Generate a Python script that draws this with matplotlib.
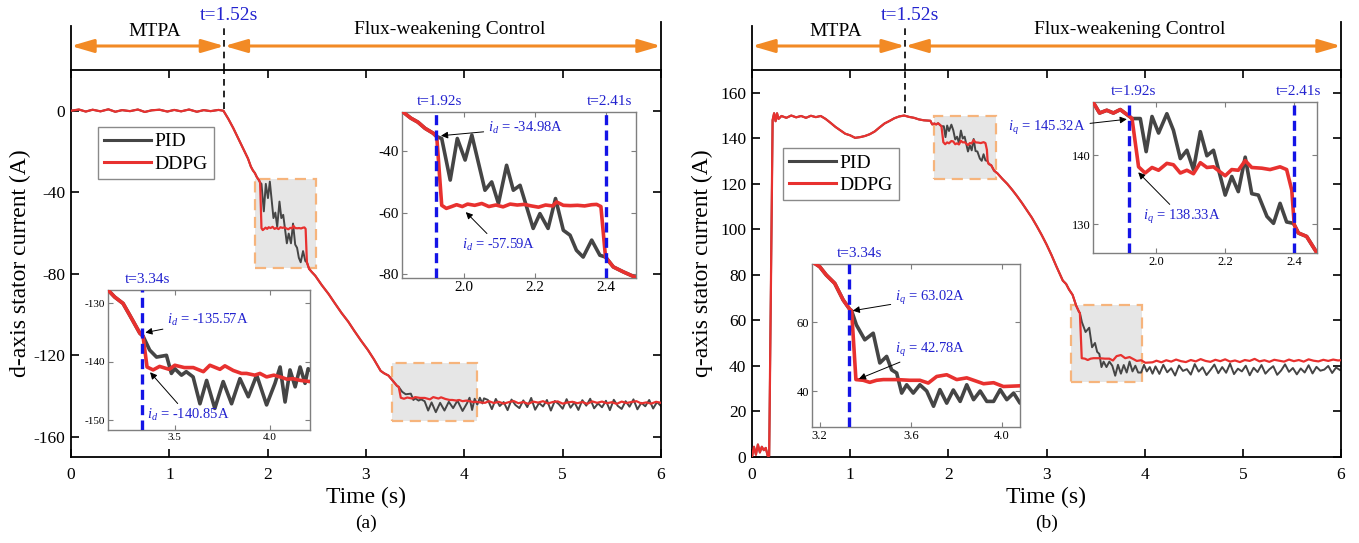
import numpy as np
import matplotlib
matplotlib.use("Agg")
import matplotlib.pyplot as plt
import matplotlib.transforms as mtransforms
from matplotlib.patches import Rectangle, ConnectionPatch
from matplotlib.lines import Line2D

plt.rcParams['font.family'] = ['Liberation Serif', 'DejaVu Serif']
plt.rcParams['mathtext.fontset'] = 'custom'
plt.rcParams['mathtext.rm'] = 'Liberation Serif'
plt.rcParams['mathtext.it'] = 'Liberation Serif:italic'
plt.rcParams['axes.unicode_minus'] = False

# ------------------------------------------------------------------ data
series_names = ['PID', 'DDPG']
t_switch = 1.56          # MTPA -> flux weakening (label t=1.52s)
t_marks_fw = [1.92, 2.40]  # labels t=1.92s, t=2.41s
t_mark_ss = 3.33         # label t=3.34s
x_ticks = [0, 1, 2, 3, 4, 5, 6]
d_yticks = [0, -40, -80, -120, -160]
q_yticks = [0, 20, 40, 60, 80, 100, 120, 140, 160]

# ---- d-axis current (panel a)
d_pre_t = [0.0, 0.08, 0.15, 0.22, 0.30, 0.38, 0.45, 0.52, 0.60, 0.68, 0.75, 0.82, 0.90, 0.98, 1.05,
           1.12, 1.20, 1.28, 1.35, 1.42, 1.50, 1.55, 1.60, 1.65, 1.70, 1.75, 1.80, 1.829, 1.85, 1.87,
           1.89, 1.913, 1.923]
d_pre_v = [0.0, 0.6, -0.4, 0.5, -0.3, 0.7, -0.5, 0.3, -0.2, 0.6, -0.6, 0.2, 0.5, -0.4, 0.4,
           -0.3, 0.6, -0.5, 0.3, -0.2, 0.4, 0.0, -4.0, -8.5, -13.5, -18.5, -23.5, -27.4, -29.3, -30.6,
           -32.6, -34.2, -35.3]
d_ddpg_fw_t = [1.937, 1.95, 1.965, 1.979, 1.995, 2.01, 2.03, 2.05, 2.07, 2.09, 2.11, 2.13, 2.15, 2.17,
               2.19, 2.21, 2.23, 2.25, 2.261, 2.28, 2.30, 2.32, 2.34, 2.36, 2.374, 2.386, 2.399]
d_ddpg_fw_v = [-57.6, -58.6, -58.0, -57.4, -58.0, -57.2, -57.6, -57.0, -58.0, -57.5, -58.1, -57.2, -57.5,
               -57.3, -57.8, -58.2, -57.5, -57.8, -56.5, -57.6, -57.7, -57.6, -57.8, -57.4, -57.3, -58.0,
               -74.4]
d_pid_fw_t = [1.937, 1.961, 1.981, 2.003, 2.022, 2.059, 2.078, 2.097, 2.12, 2.139, 2.158, 2.195, 2.214,
              2.237, 2.258, 2.28, 2.299, 2.317, 2.336, 2.36, 2.383, 2.399]
d_pid_fw_v = [-35.9, -49.4, -35.9, -42.9, -34.8, -52.7, -50.0, -57.0, -44.6, -52.7, -51.1, -65.1, -60.3,
              -65.1, -55.4, -65.7, -67.3, -72.2, -74.4, -68.9, -73.8, -74.4]
d_mid_t = [2.421, 2.449, 2.484, 2.55, 2.62, 2.68, 2.75, 2.82, 2.88, 2.95, 3.02, 3.08, 3.149, 3.184,
           3.228, 3.263, 3.316, 3.333]
d_mid_v = [-77.6, -79.2, -81.0, -85.6, -90.0, -94.3, -99.2, -103.6, -108.0, -112.9, -117.5, -122.0,
           -127.7, -128.9, -130.0, -132.0, -135.1, -135.6]
d_ddpg_ss_t = [3.354, 3.386, 3.42, 3.47, 3.5, 3.55, 3.597, 3.65, 3.684, 3.737, 3.763, 3.807, 3.85, 3.877,
               3.92, 3.947, 3.982, 4.02, 4.053, 4.09, 4.12, 4.16, 4.21]
d_ddpg_ss_v = [-140.9, -141.4, -140.8, -141.3, -140.6, -141.0, -141.0, -141.7, -140.6, -141.3, -140.7,
               -141.5, -142.0, -142.0, -142.3, -142.0, -142.6, -142.3, -142.6, -143.0, -142.9, -143.2,
               -143.4]
d_pid_ss_t = [3.368, 3.404, 3.456, 3.482, 3.5, 3.535, 3.56, 3.596, 3.632, 3.667, 3.71, 3.754, 3.798,
              3.842, 3.886, 3.93, 3.982, 4.026, 4.053, 4.079, 4.105, 4.132, 4.158, 4.184, 4.2]
d_pid_ss_v = [-138.0, -139.2, -138.9, -142.0, -141.2, -142.3, -141.7, -142.6, -147.2, -143.2, -148.0,
              -143.4, -147.2, -142.9, -146.0, -142.3, -147.4, -143.7, -140.9, -146.9, -141.4, -144.3,
              -140.9, -143.7, -141.2]
d_ddpg_tail_start, d_ddpg_tail_step = 4.25, 0.05
d_ddpg_tail_v = [-142.6, -143.5, -142.9, -143.8, -143.1, -142.5, -143.6, -143.0, -143.9, -142.8,
                 -143.3, -142.6, -143.7, -143.0, -142.7, -143.8, -143.2, -142.9, -143.6, -143.0,
                 -143.9, -142.7, -143.4, -142.8, -143.6, -143.1, -143.9, -142.8, -143.5, -143.0,
                 -142.6, -143.7, -143.2, -143.8, -142.9, -143.4]
d_pid_tail_start, d_pid_tail_step = 4.24, 0.04
d_pid_tail_v = [-142.0, -146.5, -141.5, -145.0, -143.0, -147.0, -141.8, -144.5, -146.0, -142.2,
                -145.5, -141.0, -146.8, -143.5, -145.2, -142.0, -147.2, -142.5, -144.0, -146.3,
                -141.6, -145.8, -143.2, -146.9, -142.1, -144.8, -141.4, -146.1, -143.7, -145.6,
                -142.4, -147.0, -141.9, -144.9, -146.4, -142.6, -145.3, -141.7, -146.6, -143.4,
                -145.1, -142.0, -146.2, -143.0, -145.0]

# ---- q-axis current (panel b)
q_pre_t = [0.0, 0.02, 0.04, 0.06, 0.08, 0.10, 0.12, 0.14, 0.16, 0.175, 0.21, 0.225, 0.24, 0.255, 0.27,
           0.30, 0.35, 0.40, 0.45, 0.50, 0.55, 0.60, 0.65, 0.70, 0.75, 0.80, 0.85, 0.90, 0.95, 1.00,
           1.05, 1.10, 1.15, 1.20, 1.25, 1.30, 1.35, 1.40, 1.45, 1.50, 1.55, 1.60, 1.65, 1.70, 1.75,
           1.817, 1.836, 1.857, 1.876, 1.896, 1.923, 1.93]
q_pre_v = [0.0, 4.5, 1.0, 5.5, 2.0, 4.5, 3.0, 4.0, 0.5, 0.5, 148.0, 151.0, 147.5, 151.0, 148.5,
           149.8, 149.0, 150.0, 149.2, 149.8, 149.0, 149.9, 149.3, 149.8, 148.5, 146.8, 145.0, 143.5,
           142.0, 141.3, 140.2, 140.5, 141.0, 141.8, 143.0, 144.8, 146.5, 147.6, 148.8, 149.6, 150.0,
           149.4, 149.0, 148.3, 147.9, 147.7, 146.1, 146.5, 146.1, 146.6, 145.6, 145.3]
q_ddpg_fw_t = [1.949, 1.968, 1.988, 2.007, 2.031, 2.05, 2.07, 2.089, 2.108, 2.128, 2.147, 2.166, 2.2,
               2.219, 2.238, 2.258, 2.277, 2.306, 2.33, 2.359, 2.378, 2.393, 2.40]
q_ddpg_fw_v = [138.3, 137.4, 138.2, 137.8, 138.8, 138.6, 137.4, 137.8, 137.3, 138.9, 138.2, 138.3,
               137.0, 137.9, 137.8, 139.2, 138.2, 138.1, 137.9, 138.3, 137.9, 134.9, 129.9]
q_pid_fw_t = [1.954, 1.971, 1.988, 2.007, 2.031, 2.05, 2.07, 2.089, 2.108, 2.128, 2.147, 2.166, 2.2,
              2.219, 2.238, 2.258, 2.277, 2.296, 2.321, 2.34, 2.359, 2.378, 2.398]
q_pid_fw_v = [145.3, 140.5, 145.6, 143.2, 146.0, 143.6, 139.5, 140.7, 137.9, 143.4, 139.9, 140.7,
              134.2, 136.9, 134.7, 139.7, 134.4, 134.2, 131.1, 130.1, 133.0, 130.3, 130.1]
q_mid_t = [2.412, 2.436, 2.466, 2.50, 2.55, 2.60, 2.65, 2.70, 2.75, 2.80, 2.85, 2.90, 2.95, 3.00,
           3.05, 3.10, 3.166, 3.20, 3.229, 3.266, 3.303, 3.332, 3.34]
q_mid_v = [128.7, 128.2, 125.8, 124.6, 122.2, 120.0, 117.4, 114.6, 111.6, 108.4, 105.2, 101.5, 97.6,
           93.4, 88.8, 83.8, 77.5, 76.0, 73.6, 71.2, 66.4, 63.7, 63.3]
q_ddpg_ss_t = [3.359, 3.391, 3.42, 3.45, 3.479, 3.538, 3.596, 3.64, 3.677, 3.714, 3.758, 3.802, 3.846,
               3.89, 3.92, 3.964, 4.007, 4.08]
q_ddpg_ss_v = [43.4, 43.2, 42.6, 43.2, 43.4, 43.4, 43.2, 43.2, 42.4, 44.3, 44.8, 43.4, 43.9, 42.9,
               42.2, 42.5, 41.4, 41.6]
q_pid_ss_t = [3.361, 3.398, 3.435, 3.464, 3.494, 3.516, 3.538, 3.56, 3.582, 3.611, 3.64, 3.67, 3.70,
              3.728, 3.758, 3.787, 3.817, 3.846, 3.876, 3.905, 3.934, 3.964, 3.993, 4.022, 4.052, 4.08]
q_pid_ss_v = [59.2, 54.9, 56.8, 48.2, 50.1, 46.2, 45.3, 39.5, 41.9, 39.5, 41.9, 40.1, 35.7, 40.5,
              36.6, 40.4, 37.1, 41.9, 37.6, 40.1, 37.1, 37.1, 40.5, 37.6, 39.5, 36.6]
q_ddpg_tail_start, q_ddpg_tail_step = 4.12, 0.05
q_ddpg_tail_v = [42.3, 41.6, 42.5, 41.9, 42.8, 42.1, 41.7, 42.6, 42.0, 43.0, 42.2, 41.8, 42.7, 42.1,
                 42.9, 41.9, 42.4, 41.7, 42.6, 42.2, 43.1, 42.0, 42.5, 41.8, 42.7, 42.3, 41.9, 42.8,
                 42.1, 42.6, 41.9, 42.9, 42.3, 42.0, 42.7, 42.2, 42.8, 42.4, 42.6]
q_pid_tail_start, q_pid_tail_step = 4.11, 0.04
q_pid_tail_v = [39.8, 36.5, 40.5, 37.2, 39.0, 35.8, 40.2, 37.8, 38.6, 36.2, 40.8, 37.5, 39.4, 36.0,
                38.2, 40.6, 36.8, 39.5, 37.0, 41.0, 36.4, 38.8, 37.6, 40.1, 35.9, 39.2, 37.3, 40.4,
                36.6, 38.5, 39.9, 36.1, 38.0, 40.7, 37.4, 39.1, 36.3, 38.9, 37.1, 40.3, 36.7, 39.6,
                37.9, 38.4, 40.0, 36.9, 39.3, 38.2]


def build(*segs):
    t = np.concatenate([np.asarray(s[0], float) for s in segs])
    v = np.concatenate([np.asarray(s[1], float) for s in segs])
    return t, v


def tail(t0, dt, vals):
    return t0 + dt * np.arange(len(vals)), vals


d_ddpg = build((d_pre_t, d_pre_v), (d_ddpg_fw_t, d_ddpg_fw_v), (d_mid_t, d_mid_v),
               (d_ddpg_ss_t, d_ddpg_ss_v), tail(d_ddpg_tail_start, d_ddpg_tail_step, d_ddpg_tail_v))
d_pid = build((d_pre_t, d_pre_v), (d_pid_fw_t, d_pid_fw_v), (d_mid_t, d_mid_v),
              (d_pid_ss_t, d_pid_ss_v), tail(d_pid_tail_start, d_pid_tail_step, d_pid_tail_v))
q_ddpg = build((q_pre_t, q_pre_v), (q_ddpg_fw_t, q_ddpg_fw_v), (q_mid_t, q_mid_v),
               (q_ddpg_ss_t, q_ddpg_ss_v), tail(q_ddpg_tail_start, q_ddpg_tail_step, q_ddpg_tail_v))
q_pid = build((q_pre_t, q_pre_v), (q_pid_fw_t, q_pid_fw_v), (q_mid_t, q_mid_v),
              (q_pid_ss_t, q_pid_ss_v), tail(q_pid_tail_start, q_pid_tail_step, q_pid_tail_v))

# ------------------------------------------------------------------ style
W, H = 1359, 543
RED = '#E8312F'
GRAY = '#454545'
BLUE = '#2323CF'
BLUE_LINE = '#1414E6'
ORANGE = '#F28A25'
RECT_EDGE = '#F6B47C'
RECT_FACE = '#E6E6E6'
LINK = '#B4B4B4'
INSET_SPINE = '#7F7F7F'


def fbox(x0, y0, x1, y1):
    return [x0 / W, 1 - y1 / H, (x1 - x0) / W, (y1 - y0) / H]


panels = [
    dict(px=(71, 70, 661, 457), ylim=(-170, 20), yticks=d_yticks,
         ylabel='d-axis stator current (A)', ylabel_x=20, caption='(a)',
         pid=d_pid, ddpg=d_ddpg, sw_bottom=1.0, legend_anchor=(0.046, 0.853),
         rects=[(1.87, -77.4, 2.49, -33.5), (3.26, -152.1, 4.13, -124.0)],
         insets=[
             dict(px=(402, 112, 636, 278), xlim=(1.825, 2.485), ylim=(-81.2, -27.3),
                  xticks=[2.0, 2.2, 2.4], yticks=[-40, -60, -80], fs=11,
                  vlines=t_marks_fw, tlabels=[('t=1.92s', 1.93), ('t=2.41s', 2.41)],
                  rect=0, links=[((1, 1), (0, 1)), ((1, 0), (0, 0))],
                  notes=[(r'$i_d$ = -34.98A', (2.067, -32.5), (1.935, -35.0)),
                         (r'$i_d$ = -57.59A', (1.994, -70.6), (2.005, -59.8))]),
             dict(px=(108, 290, 310, 430), xlim=(3.149, 4.21), ylim=(-151.7, -127.7),
                  xticks=[3.5, 4.0], yticks=[-130, -140, -150], fs=8,
                  vlines=[t_mark_ss], tlabels=[('t=3.34s', 3.358)],
                  rect=1, links=[((0, 1), (1, 1)), ((0, 0), (1, 0))],
                  notes=[(r'$i_d$ = -135.57A', (3.459, -132.9), (3.345, -135.0)),
                         (r'$i_d$ = -140.85A', (3.353, -149.2), (3.37, -141.8))]),
         ]),
    dict(px=(752, 70, 1341, 457), ylim=(0, 170), yticks=q_yticks,
         ylabel='q-axis stator current (A)', ylabel_x=702, caption='(b)',
         pid=q_pid, ddpg=q_ddpg, sw_bottom=151.0, legend_anchor=(0.053, 0.798),
         rects=[(1.857, 122.2, 2.49, 150.0), (3.25, 33.1, 3.97, 66.8)],
         insets=[
             dict(px=(1093, 102, 1317, 253), xlim=(1.817, 2.466), ylim=(125.8, 147.7),
                  xticks=[2.0, 2.2, 2.4], yticks=[130, 140], fs=9,
                  vlines=t_marks_fw, tlabels=[('t=1.92s', 1.934), ('t=2.41s', 2.412)],
                  rect=0, links=[((1, 1), (0, 1)), ((1, 0), (0, 0))],
                  notes=[(r'$i_q$ = 145.32A', (1.571, 143.9), (1.915, 145.2)),
                         (r'$i_q$ = 138.33A', (1.963, 131.0), (1.948, 137.5))]),
             dict(px=(812, 264, 1020, 427), xlim=(3.166, 4.08), ylim=(29.7, 76.8),
                  xticks=[3.2, 3.6, 4.0], yticks=[40, 60], fs=9,
                  vlines=[t_mark_ss], tlabels=[('t=3.34s', 3.376)],
                  rect=1, links=[((0, 1), (1, 1)), ((0, 0), (1, 0))],
                  notes=[(r'$i_q$ = 63.02A', (3.53, 67.0), (3.345, 63.3)),
                         (r'$i_q$ = 42.78A', (3.53, 52.0), (3.372, 43.6))]),
         ]),
]

fig = plt.figure(figsize=(W / 100, H / 100), dpi=100)

for p in panels:
    x0, y0, x1, y1 = p['px']
    ax = fig.add_axes(fbox(*p['px']))
    for (rx0, ry0, rx1, ry1) in p['rects']:
        ax.add_patch(Rectangle((rx0, ry0), rx1 - rx0, ry1 - ry0, facecolor=RECT_FACE,
                               edgecolor=RECT_EDGE, lw=1.6, ls=(0, (5, 3)), zorder=1))
    ax.plot(*p['pid'], color=GRAY, lw=1.4, zorder=2)
    ax.plot(*p['ddpg'], color=RED, lw=1.6, zorder=3)
    ax.plot([t_switch, t_switch], [p['sw_bottom'], p['ylim'][1]], color='black', lw=1.2,
            ls=(0, (4, 3)), zorder=4)
    ax.set_xlim(0, 6)
    ax.set_ylim(*p['ylim'])
    ax.set_xticks(x_ticks)
    ax.set_xticklabels([str(v) for v in x_ticks])
    ax.set_yticks(p['yticks'])
    ax.set_yticklabels([str(v) for v in p['yticks']])
    ax.tick_params(direction='in', length=6, width=1.2, top=True, right=True, labelsize=12.5)
    ax.tick_params(axis='x', pad=7)
    ax.tick_params(axis='y', pad=4)
    for s in ax.spines.values():
        s.set_linewidth(1.3)
    handles = [Line2D([], [], color=GRAY, lw=2.2), Line2D([], [], color=RED, lw=2.2)]
    leg = ax.legend(handles, series_names, loc='upper left', bbox_to_anchor=p['legend_anchor'],
                    fontsize=14, frameon=True, fancybox=False, edgecolor='#8A8A8A', framealpha=1,
                    borderpad=0.3, handlelength=2.4, handletextpad=0.2, labelspacing=0.25,
                    borderaxespad=0)
    leg.get_frame().set_linewidth(1.0)
    cx = (x0 + x1) / 2
    fig.text(cx / W, 1 - 497 / H, 'Time (s)', ha='center', va='center', fontsize=17)
    fig.text(cx / W, 1 - 523 / H, p['caption'], ha='center', va='center', fontsize=14)
    fig.text(p['ylabel_x'] / W, 1 - ((y0 + y1) / 2) / H, p['ylabel'], rotation=90,
             ha='center', va='center', fontsize=17)

    # header with phase arrows
    hax = fig.add_axes(fbox(x0, 20, x1, 70))
    hax.set_xlim(0, 6)
    hax.set_ylim(0, 1)
    hax.axis('off')
    hax.plot([0, 0], [0, 0.88], color='black', lw=1.3, clip_on=False)
    hax.plot([6, 6], [0, 0.96], color='black', lw=1.3, clip_on=False)
    hax.plot([t_switch, t_switch], [0, 0.84], color='black', lw=1.2, ls=(0, (4, 3)))
    astyle = '<|-|>,head_length=0.75,head_width=0.22'
    for a, b in [(0, t_switch), (t_switch, 6)]:
        hax.annotate('', xy=(a, 0.48), xytext=(b, 0.48),
                     arrowprops=dict(arrowstyle=astyle, color=ORANGE, lw=2.2,
                                     shrinkA=0, shrinkB=0, mutation_scale=18),
                     annotation_clip=False)
    hax.text(0.85, 0.78, 'MTPA', ha='center', va='center', fontsize=14)
    hax.text(3.85, 0.82, 'Flux-weakening Control', ha='center', va='center', fontsize=14)
    hax.text(t_switch + 0.05, 1.1, 't=1.52s', ha='center', va='center', fontsize=14,
             color=BLUE, clip_on=False)

    # zoom insets
    for ins in p['insets']:
        iax = fig.add_axes(fbox(*ins['px']))
        iax.plot(*p['pid'], color=GRAY, lw=2.6, zorder=2)
        iax.plot(*p['ddpg'], color=RED, lw=2.6, zorder=3)
        for xv in ins['vlines']:
            iax.axvline(xv, color=BLUE_LINE, lw=2.4, ls=(0, (3, 1.6)), zorder=4)
        iax.set_xlim(*ins['xlim'])
        iax.set_ylim(*ins['ylim'])
        iax.set_xticks(ins['xticks'])
        iax.set_xticklabels(['%.1f' % v for v in ins['xticks']])
        iax.set_yticks(ins['yticks'])
        iax.set_yticklabels([str(v) for v in ins['yticks']])
        iax.tick_params(direction='in', length=3.5, width=0.8, colors=INSET_SPINE,
                        labelcolor='black', top=True, right=True, labelsize=ins['fs'], pad=2)
        for s in iax.spines.values():
            s.set_color(INSET_SPINE)
            s.set_linewidth(1.0)
        trans = mtransforms.blended_transform_factory(iax.transData, iax.transAxes)
        for lab, xv in ins['tlabels']:
            iax.annotate(lab, xy=(xv, 1.0), xycoords=trans, xytext=(0, 3),
                         textcoords='offset points', ha='center', va='bottom',
                         fontsize=11, color=BLUE, annotation_clip=False)
        for txt, xyt, xy in ins['notes']:
            iax.annotate(txt, xy=xy, xytext=xyt, ha='left', va='center', color=BLUE,
                         fontsize=10.5, annotation_clip=False, zorder=10,
                         arrowprops=dict(arrowstyle='-|>', color='black', lw=0.7,
                                         mutation_scale=10, shrinkA=1, shrinkB=0))
        rx0, ry0, rx1, ry1 = p['rects'][ins['rect']]
        for (ca, cb) in ins['links']:
            xa = rx0 if ca[0] == 0 else rx1
            ya = ry0 if ca[1] == 0 else ry1
            con = ConnectionPatch(xyA=(xa, ya), coordsA=ax.transData, xyB=cb,
                                  coordsB=iax.transAxes, color=LINK, lw=0.9, zorder=0)
            fig.add_artist(con)

fig.savefig('out.png', dpi=100)
